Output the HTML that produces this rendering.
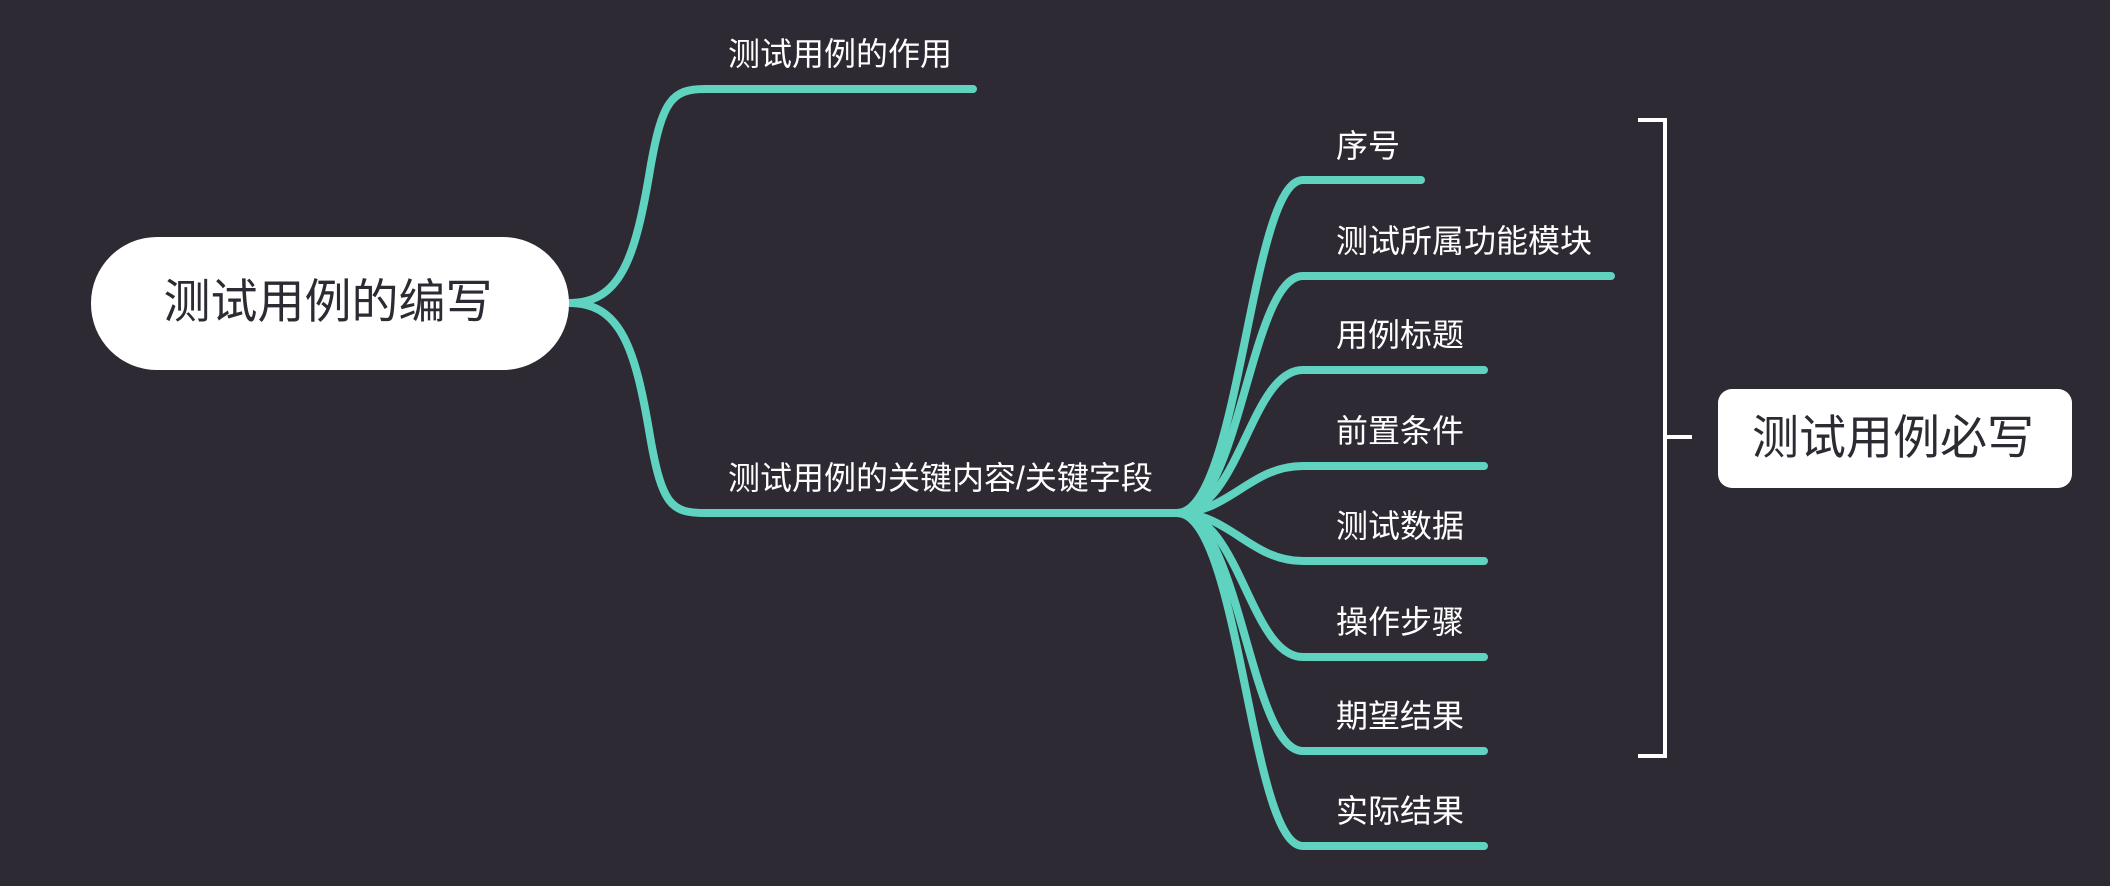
<!DOCTYPE html>
<html><head><meta charset="utf-8"><style>
html,body{margin:0;padding:0;background:#2e2a33;}
body{width:2110px;height:886px;overflow:hidden;position:relative;font-family:"Liberation Sans","Noto Sans CJK SC",sans-serif;}
.t{position:absolute;color:#fff;font-size:32px;line-height:32px;white-space:nowrap;}
</style></head><body>
<svg width="2110" height="886" style="position:absolute;left:0;top:0">
<g fill="none" stroke="#5fd3c0" stroke-width="8" stroke-linecap="round">
<path d="M569,303 C620,303 635,260 650,170 C662,100 672,89 705,89 L973,89"/>
<path d="M569,303 C620,303 635,346 650,436 C662,506 672,513 705,513 L1177,513"/>
<path d="M1177,513 C1240,513 1250,180 1303,180 L1421,180"/>
<path d="M1177,513 C1240,513 1250,276 1303,276 L1611,276"/>
<path d="M1177,513 C1240,513 1250,370 1303,370 L1484,370"/>
<path d="M1177,513 C1230,513 1250,466 1303,466 L1484,466"/>
<path d="M1177,513 C1230,513 1250,561 1303,561 L1484,561"/>
<path d="M1177,513 C1240,513 1250,657 1303,657 L1484,657"/>
<path d="M1177,513 C1240,513 1250,751 1303,751 L1484,751"/>
<path d="M1177,513 C1240,513 1250,846 1303,846 L1484,846"/>
</g>
<path d="M1638,120 L1665,120 L1665,756 L1638,756 M1665,437 L1692,437" fill="none" stroke="#fff" stroke-width="4"/>
<rect x="91" y="237" width="478" height="133" rx="66" fill="#fff"/>
<rect x="1718" y="389" width="354" height="99" rx="14" fill="#fff"/>
<text x="328" y="318" text-anchor="middle" font-size="47" fill="#2e2a33" font-family="Liberation Sans, Noto Sans CJK SC, sans-serif">测试用例的编写</text>
<text x="1893" y="454" text-anchor="middle" font-size="47" fill="#2e2a33" font-family="Liberation Sans, Noto Sans CJK SC, sans-serif">测试用例必写</text>
</svg>
<div class="t" style="left:728px;top:38px">测试用例的作用</div>
<div class="t" style="left:728px;top:462px">测试用例的关键内容/关键字段</div>
<div class="t" style="left:1336px;top:130px">序号</div>
<div class="t" style="left:1336px;top:225px">测试所属功能模块</div>
<div class="t" style="left:1336px;top:319px">用例标题</div>
<div class="t" style="left:1336px;top:415px">前置条件</div>
<div class="t" style="left:1336px;top:510px">测试数据</div>
<div class="t" style="left:1336px;top:606px">操作步骤</div>
<div class="t" style="left:1336px;top:700px">期望结果</div>
<div class="t" style="left:1336px;top:795px">实际结果</div>
</body></html>
